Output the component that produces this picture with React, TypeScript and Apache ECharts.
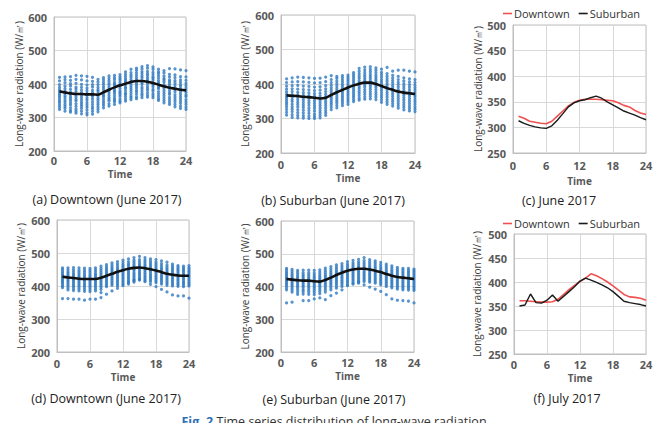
import React, { useEffect, useRef } from "react";
import * as echarts from "echarts";

const HOURS = [1, 2, 3, 4, 5, 6, 7, 8, 9, 10, 11, 12, 13, 14, 15, 16, 17, 18, 19, 20, 21, 22, 23, 24];

// (a) Downtown June 2017 — hourly observations
const scatterA: number[][] = [
  [324, 331, 337, 344, 349, 355, 361, 366, 371, 377, 383, 390, 398, 409, 420],
  [319, 327, 333, 339, 346, 352, 359, 365, 372, 379, 386, 394, 404, 413, 421],
  [316, 321, 329, 337, 343, 350, 356, 362, 369, 376, 384, 394, 401, 411, 422],
  [313, 319, 325, 333, 341, 349, 354, 361, 368, 377, 385, 391, 402, 414, 426],
  [311, 319, 327, 334, 340, 346, 353, 360, 367, 374, 382, 390, 399, 412, 424],
  [308, 314, 322, 330, 337, 344, 352, 358, 366, 372, 380, 388, 397, 409, 423],
  [310, 318, 326, 332, 339, 347, 355, 362, 367, 374, 381, 391, 398, 408, 420],
  [317, 324, 331, 338, 344, 351, 357, 364, 371, 378, 383, 390, 398, 406, 414],
  [329, 336, 342, 348, 355, 362, 366, 372, 379, 386, 392, 399, 405, 412, 419],
  [334, 341, 349, 354, 359, 366, 373, 379, 384, 390, 397, 403, 410, 417, 424],
  [339, 347, 352, 357, 364, 371, 377, 381, 388, 395, 400, 405, 413, 419, 426],
  [344, 349, 355, 363, 369, 374, 379, 386, 393, 397, 404, 411, 416, 421, 428],
  [349, 355, 362, 369, 373, 380, 387, 391, 398, 405, 409, 415, 422, 429, 436],
  [353, 359, 364, 371, 378, 384, 390, 396, 403, 408, 414, 421, 427, 434, 444],
  [356, 361, 369, 376, 381, 388, 394, 400, 406, 412, 419, 426, 433, 441, 447],
  [359, 366, 371, 378, 385, 391, 399, 404, 410, 418, 424, 431, 437, 445, 452],
  [361, 367, 374, 382, 387, 393, 401, 407, 413, 419, 426, 431, 438, 447, 455],
  [359, 365, 371, 379, 384, 392, 398, 403, 411, 417, 421, 428, 435, 444, 451],
  [351, 356, 363, 370, 377, 386, 391, 397, 403, 409, 417, 424, 431, 436, 444],
  [344, 351, 358, 365, 372, 379, 386, 392, 398, 406, 412, 417, 424, 433, 440],
  [339, 346, 353, 360, 369, 374, 381, 389, 395, 401, 407, 412, 421, 429, 446],
  [332, 339, 347, 354, 361, 368, 377, 384, 389, 396, 403, 410, 419, 427, 445],
  [327, 334, 342, 349, 356, 363, 370, 377, 386, 393, 398, 405, 412, 422, 442],
  [324, 331, 339, 346, 353, 362, 367, 374, 381, 388, 395, 402, 411, 421, 440],
];
const meanA = [378, 375, 372, 370, 370, 369, 369, 368, 375, 383, 390, 396, 401, 406, 409, 409, 407, 403, 398, 393, 389, 386, 383, 381];

// (b) Suburban June 2017
const scatterB: number[][] = [
  [310, 318, 326, 333, 340, 346, 352, 358, 364, 370, 377, 385, 394, 404, 415],
  [303, 311, 320, 327, 334, 341, 349, 355, 362, 369, 378, 386, 395, 406, 418],
  [302, 309, 317, 325, 333, 340, 347, 354, 361, 368, 376, 385, 396, 407, 420],
  [301, 308, 316, 324, 332, 339, 346, 353, 360, 367, 375, 384, 394, 406, 419],
  [300, 307, 315, 323, 330, 338, 345, 352, 359, 366, 374, 383, 393, 405, 418],
  [300, 306, 313, 321, 329, 336, 343, 350, 357, 364, 372, 381, 391, 403, 416],
  [302, 309, 316, 323, 330, 337, 344, 351, 358, 365, 373, 382, 392, 404, 417],
  [309, 316, 323, 330, 337, 344, 350, 357, 363, 370, 378, 386, 395, 407, 420],
  [326, 333, 340, 346, 352, 358, 364, 370, 376, 382, 389, 396, 404, 413, 424],
  [331, 338, 345, 351, 357, 363, 369, 375, 381, 387, 394, 401, 408, 416, 422],
  [337, 344, 350, 356, 362, 368, 374, 380, 386, 392, 398, 405, 411, 418, 424],
  [341, 348, 354, 360, 366, 372, 378, 384, 390, 396, 402, 408, 414, 420, 426],
  [349, 355, 361, 367, 373, 379, 385, 391, 397, 403, 409, 415, 421, 427, 433],
  [353, 359, 366, 373, 379, 386, 392, 398, 404, 410, 417, 423, 430, 437, 445],
  [356, 363, 370, 377, 384, 391, 397, 403, 409, 415, 421, 427, 434, 441, 449],
  [357, 364, 371, 378, 385, 392, 398, 404, 410, 416, 422, 428, 435, 442, 450],
  [355, 362, 369, 376, 383, 390, 396, 402, 408, 414, 420, 426, 433, 440, 447],
  [347, 354, 361, 368, 375, 382, 389, 395, 401, 407, 413, 420, 427, 434, 443],
  [341, 348, 355, 362, 369, 376, 383, 389, 395, 401, 408, 415, 422, 430, 448],
  [336, 343, 350, 357, 364, 371, 378, 384, 390, 396, 403, 410, 417, 425, 437],
  [330, 337, 344, 351, 358, 365, 372, 378, 384, 391, 398, 405, 413, 422, 440],
  [325, 332, 339, 346, 353, 360, 367, 373, 380, 387, 394, 401, 409, 418, 440],
  [322, 329, 336, 343, 350, 357, 364, 370, 377, 384, 391, 398, 406, 415, 437],
  [320, 327, 334, 341, 348, 355, 362, 368, 375, 382, 389, 396, 404, 413, 435],
];
const meanB = [367, 366, 365, 363, 362, 360, 358, 360, 368, 376, 383, 390, 396, 401, 404, 404, 400, 394, 388, 383, 378, 375, 373, 371];

// (d) Downtown
const scatterD: number[][] = [
  [362, 395, 400, 405, 410, 414, 418, 422, 426, 430, 434, 439, 444, 450, 455],
  [362, 388, 394, 400, 405, 410, 415, 419, 424, 428, 433, 438, 443, 449, 455],
  [360, 386, 392, 398, 403, 408, 413, 418, 422, 427, 432, 437, 443, 449, 456],
  [360, 385, 391, 397, 402, 407, 412, 417, 421, 426, 431, 436, 442, 448, 455],
  [357, 384, 390, 396, 401, 406, 411, 416, 420, 425, 430, 435, 441, 447, 454],
  [360, 383, 389, 395, 400, 405, 410, 415, 420, 425, 430, 435, 441, 447, 453],
  [360, 385, 391, 397, 402, 407, 412, 417, 422, 427, 432, 437, 443, 449, 455],
  [365, 380, 390, 396, 401, 406, 411, 416, 421, 426, 431, 436, 441, 447, 453, 460],
  [375, 398, 403, 408, 413, 418, 423, 428, 433, 438, 443, 448, 453, 459, 465],
  [385, 402, 407, 412, 417, 422, 427, 432, 437, 442, 447, 452, 457, 463, 470],
  [393, 400, 405, 410, 415, 420, 425, 430, 435, 440, 445, 450, 455, 461, 467, 474],
  [401, 405, 410, 415, 420, 425, 430, 435, 440, 445, 450, 455, 460, 465, 471, 478],
  [406, 410, 413, 418, 423, 428, 433, 438, 443, 448, 453, 458, 463, 468, 474, 482],
  [412, 418, 415, 420, 425, 430, 435, 440, 446, 451, 456, 461, 466, 472, 478, 486],
  [420, 418, 423, 428, 433, 438, 443, 448, 453, 458, 463, 468, 474, 480, 490],
  [413, 416, 421, 426, 431, 436, 441, 447, 452, 457, 462, 467, 473, 479, 486],
  [405, 413, 418, 423, 428, 433, 438, 444, 449, 454, 459, 464, 469, 475, 482],
  [398, 410, 415, 420, 425, 430, 435, 441, 446, 451, 456, 461, 466, 472, 480],
  [390, 406, 411, 416, 421, 426, 431, 436, 441, 446, 451, 456, 462, 468, 476],
  [382, 402, 407, 412, 417, 422, 427, 432, 437, 442, 447, 452, 457, 463, 472],
  [373, 400, 405, 410, 415, 420, 425, 430, 435, 440, 445, 450, 455, 460, 466],
  [370, 399, 404, 408, 413, 418, 423, 428, 433, 438, 443, 448, 452, 457, 462],
  [370, 398, 403, 408, 412, 417, 422, 427, 432, 436, 441, 446, 450, 455, 460],
  [363, 400, 404, 409, 413, 418, 423, 428, 432, 437, 442, 446, 451, 456, 462],
];
const meanD = [428, 426, 424, 422, 421, 421, 421, 425, 431, 437, 443, 448, 452, 455, 456, 454, 451, 447, 442, 437, 434, 432, 431, 431];

// (e) Suburban
const scatterE: number[][] = [
  [350, 390, 396, 402, 407, 412, 417, 421, 425, 429, 434, 439, 444, 450, 455],
  [352, 383, 389, 395, 401, 406, 411, 416, 420, 425, 430, 435, 440, 446, 452],
  [376, 383, 390, 396, 401, 406, 411, 416, 421, 426, 431, 437, 443, 449],
  [357, 377, 384, 390, 396, 401, 406, 411, 416, 421, 426, 431, 436, 442, 450],
  [357, 376, 383, 389, 395, 400, 405, 410, 415, 420, 425, 430, 436, 442, 450],
  [362, 375, 382, 388, 394, 399, 404, 409, 414, 419, 424, 429, 435, 441, 449],
  [365, 378, 385, 391, 397, 402, 407, 412, 417, 422, 427, 432, 438, 444, 451],
  [360, 383, 390, 396, 402, 407, 412, 417, 422, 427, 432, 437, 443, 449, 456],
  [372, 390, 396, 402, 407, 412, 417, 422, 427, 432, 437, 442, 448, 454, 461],
  [380, 395, 401, 407, 412, 417, 422, 427, 432, 437, 442, 447, 453, 459, 466],
  [390, 400, 406, 411, 416, 421, 426, 431, 436, 441, 446, 451, 457, 463, 470],
  [403, 405, 411, 416, 421, 426, 431, 436, 441, 446, 451, 456, 462, 468, 476],
  [407, 410, 415, 420, 425, 430, 435, 440, 445, 450, 455, 460, 466, 472, 480],
  [410, 415, 413, 418, 423, 428, 433, 438, 443, 448, 453, 458, 463, 469, 475, 483],
  [405, 415, 420, 425, 430, 435, 440, 445, 450, 455, 460, 466, 472, 479, 488],
  [398, 413, 418, 423, 428, 433, 438, 443, 448, 453, 458, 463, 469, 475, 482],
  [392, 410, 415, 420, 425, 430, 435, 440, 445, 450, 455, 460, 466, 472, 478],
  [385, 405, 410, 415, 420, 425, 430, 435, 440, 445, 450, 455, 461, 467, 474],
  [375, 400, 405, 410, 415, 420, 425, 430, 435, 440, 445, 450, 456, 462, 468],
  [362, 396, 401, 406, 411, 416, 421, 426, 431, 436, 441, 446, 451, 457, 463],
  [358, 392, 397, 402, 407, 412, 417, 422, 427, 432, 437, 442, 447, 452, 458],
  [357, 390, 395, 400, 405, 410, 415, 420, 425, 430, 435, 440, 445, 450, 455],
  [355, 389, 394, 399, 404, 409, 414, 419, 424, 429, 434, 439, 444, 449, 455],
  [350, 388, 393, 398, 403, 408, 413, 418, 423, 428, 433, 438, 443, 448, 453],
];
const meanE = [423, 421, 419, 418, 418, 416, 415, 420, 427, 435, 442, 448, 452, 454, 454, 452, 448, 444, 438, 433, 429, 427, 425, 423];

// (c) June 2017 averages
const juneDowntown = [322, 318, 312, 310, 308, 307, 312, 322, 332, 342, 349, 353, 355, 355, 355, 354, 353, 352, 348, 343, 340, 333, 328, 325];
const juneSuburban = [313, 308, 304, 301, 299, 298, 303, 314, 327, 340, 348, 352, 354, 358, 361, 357, 350, 344, 338, 332, 328, 324, 319, 315];

// (f) July 2017 averages
const julyDowntown = [361, 361, 360, 359, 358, 358, 359, 364, 374, 384, 393, 401, 408, 417, 413, 407, 400, 392, 383, 374, 369, 368, 366, 362];
const julySuburban = [350, 352, 375, 357, 356, 362, 373, 360, 370, 380, 390, 402, 408, 404, 399, 394, 388, 380, 370, 360, 357, 355, 353, 350];

const X_TICKS = [0, 6, 12, 18, 24];
const Y_NAME = "Long-wave radiation (W/㎡)";

const CAPTIONS = [
  "(a) Downtown (June 2017)",
  "(b) Suburban (June 2017)",
  "(c) June 2017",
  "(d) Downtown (June 2017)",
  "(e) Suburban (June 2017)",
  "(f) July 2017",
];

const FONT = "'Open Sans', 'Noto Sans', sans-serif";
const BLUE = "#3079C2";

export default function App() {
  const ref = useRef<HTMLDivElement>(null);

  useEffect(() => {
    if (!ref.current) return;
    const chart = echarts.init(ref.current, undefined, { renderer: "svg" });

    const grids = [
      { left: 54, top: 17, width: 132, height: 134 },
      { left: 281, top: 15, width: 134, height: 138 },
      { left: 513, top: 25, width: 133, height: 128 },
      { left: 57, top: 220, width: 132, height: 132 },
      { left: 281, top: 221, width: 133, height: 131 },
      { left: 514, top: 234, width: 132, height: 120 },
    ];
    const yNameGaps = [30, 31, 30, 31, 31, 32];
    const xNameGaps = [18, 20, 23, 20, 19, 19];
    const xLabelMargins = [4, 6, 7, 6, 5, 5];
    const yRanges = [
      [200, 600, 100],
      [200, 600, 100],
      [250, 500, 50],
      [200, 600, 100],
      [200, 600, 100],
      [250, 500, 50],
    ];

    const xAxis = grids.map((_, i) => ({
      type: "value",
      gridIndex: i,
      min: 0,
      max: 24,
      interval: 6,
      name: "Time",
      nameLocation: "middle",
      nameGap: xNameGaps[i],
      nameTextStyle: { fontSize: 10, fontWeight: "bold", color: "#595959", fontFamily: FONT, lineHeight: 10 },
      axisLine: { show: true, lineStyle: { color: "#BFBFBF", width: 1 } },
      axisTick: { show: false },
      axisLabel: {
        margin: xLabelMargins[i],
        fontSize: 11,
        lineHeight: 11,
        fontWeight: "bold",
        color: "#595959",
        fontFamily: FONT,
        formatter: (v: number) => (X_TICKS.includes(v) ? String(v) : ""),
      },
      splitLine: { show: true, lineStyle: { color: "#D9D9D9", width: 1 } },
    }));

    const yAxis = grids.map((_, i) => ({
      type: "value",
      gridIndex: i,
      min: yRanges[i][0],
      max: yRanges[i][1],
      interval: yRanges[i][2],
      name: Y_NAME,
      nameLocation: "middle",
      nameGap: yNameGaps[i],
      nameRotate: 90,
      nameTextStyle: { fontSize: 10, color: "#404040", fontFamily: FONT },
      axisLine: { show: true, lineStyle: { color: "#BFBFBF", width: 1 } },
      axisTick: { show: false },
      axisLabel: { margin: 7, fontSize: 11, fontWeight: "bold", color: "#595959", fontFamily: FONT },
      splitLine: { show: true, lineStyle: { color: "#D9D9D9", width: 1 } },
    }));

    const toPoints = (vals: number[][]) =>
      HOURS.flatMap((h, i) => vals[i].map((v) => [h, v]));
    const toLine = (vals: number[]) => HOURS.map((h, i) => [h, vals[i]]);

    const scatterPanels: [number, number[][], number[]][] = [
      [0, scatterA, meanA],
      [1, scatterB, meanB],
      [3, scatterD, meanD],
      [4, scatterE, meanE],
    ];

    const series: any[] = [];
    scatterPanels.forEach(([gi, sc, mean]) => {
      series.push({
        type: "scatter",
        xAxisIndex: gi,
        yAxisIndex: gi,
        symbolSize: 3.2,
        itemStyle: { color: BLUE },
        data: toPoints(sc),
        silent: true,
      });
      series.push({
        type: "line",
        xAxisIndex: gi,
        yAxisIndex: gi,
        smooth: 0.3,
        showSymbol: false,
        symbol: "none",
        lineStyle: { color: "#111111", width: 2.6 },
        data: toLine(mean),
        z: 5,
      });
    });

    const linePanels: [number, number[], number[]][] = [
      [2, juneDowntown, juneSuburban],
      [5, julyDowntown, julySuburban],
    ];
    linePanels.forEach(([gi, down, sub]) => {
      series.push({
        name: "Downtown",
        type: "line",
        xAxisIndex: gi,
        yAxisIndex: gi,
        symbol: "none",
        lineStyle: { color: "#F0504F", width: 1.6 },
        itemStyle: { color: "#F0504F" },
        data: toLine(down),
      });
      series.push({
        name: "Suburban",
        type: "line",
        xAxisIndex: gi,
        yAxisIndex: gi,
        symbol: "none",
        lineStyle: { color: "#1A1A1A", width: 1.4 },
        itemStyle: { color: "#1A1A1A" },
        data: toLine(sub),
      });
    });

    const legendCommon = {
      data: ["Downtown", "Suburban"],
      icon: "rect",
      itemWidth: 9,
      itemHeight: 1.6,
      itemGap: 9,
      selectedMode: false,
      textStyle: { fontSize: 11, color: "#333333", fontFamily: FONT, padding: [0, 0, 0, -3] },
    };

    const captionPos = [
      [107, 199],
      [333, 200],
      [559, 200],
      [106, 398],
      [334, 399],
      [567, 398],
    ];

    const graphic: any[] = CAPTIONS.map((t, i) => ({
      type: "text",
      x: captionPos[i][0],
      y: captionPos[i][1],
      style: {
        text: t,
        fill: "#222222",
        fontSize: 12.5,
        fontFamily: FONT,
        align: "center",
        verticalAlign: "middle",
      },
    }));
    graphic.push({
      type: "text",
      x: 334,
      y: 415,
      style: {
        text: "{f|Fig. 2} {t|Time series distribution of long-wave radiation}",
        align: "center",
        verticalAlign: "top",
        rich: {
          f: { fontSize: 12.5, fontWeight: "bold", fill: "#2E6FB5", fontFamily: FONT },
          t: { fontSize: 12.5, fill: "#333333", fontFamily: FONT },
        },
      },
    });

    chart.setOption({
      animation: false,
      backgroundColor: "#ffffff",
      textStyle: { fontFamily: FONT },
      grid: grids.map((g) => ({ ...g, show: true, borderColor: "#BFBFBF", borderWidth: 1, backgroundColor: "transparent" })),
      xAxis,
      yAxis,
      legend: [
        { ...legendCommon, left: 498, top: 3 },
        { ...legendCommon, left: 498, top: 213 },
      ],
      graphic,
      series,
    });

    return () => chart.dispose();
  }, []);

  return (
    <div
      ref={ref}
      style={{ position: "absolute", left: 0, top: 0, width: 661, height: 423, background: "#fff" }}
    />
  );
}
